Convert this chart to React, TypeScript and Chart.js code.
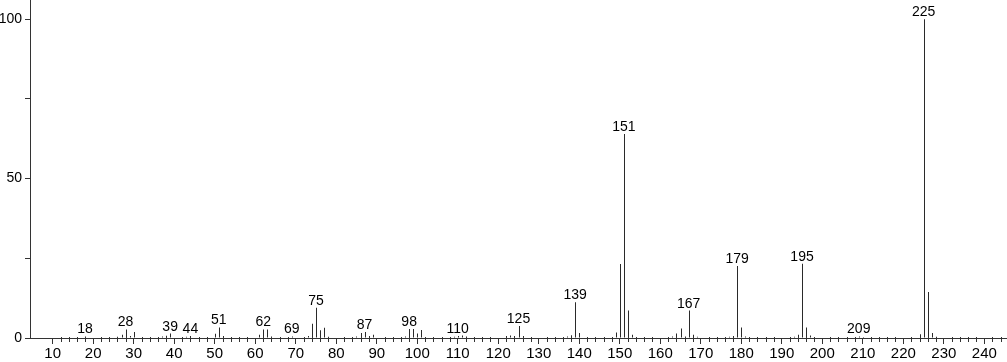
import React, { useEffect, useRef } from 'react';
import { Chart, registerables } from 'chart.js';

Chart.register(...registerables);

// m/z values of the peaks
const masses = [
  18, 26, 27, 28, 29, 30, 37, 38, 39, 43, 44, 50, 51, 52,
  61, 62, 63, 64, 69, 73, 74, 75, 76, 77, 78,
  85, 86, 87, 88, 89, 97, 98, 99, 100, 101,
  109, 110, 111, 112, 122, 123, 124, 125, 126,
  137, 138, 139, 140, 149, 150, 151, 152, 153,
  163, 164, 165, 166, 167, 168, 169,
  177, 178, 179, 180, 181, 193, 194, 195, 196, 197,
  208, 209, 210, 224, 225, 226, 227, 228,
];

// relative intensities (%)
const intensities = [
  0.5, 0.4, 1.0, 2.7, 0.6, 1.9, 0.5, 0.7, 1.4, 0.4, 0.6, 1.3, 3.3, 0.6,
  1.0, 2.7, 2.7, 0.5, 0.5, 0.6, 4.5, 9.5, 2.4, 3.2, 0.4,
  0.5, 1.6, 1.9, 0.6, 1.0, 0.5, 2.8, 2.8, 1.4, 2.5,
  0.4, 0.6, 0.8, 0.5, 0.6, 0.8, 0.6, 3.8, 0.6,
  0.5, 0.9, 11.2, 1.6, 1.7, 23.2, 64.0, 8.6, 1.0,
  0.5, 1.4, 3.0, 0.5, 8.6, 1.0, 0.4,
  0.4, 0.6, 22.6, 3.3, 0.5, 0.4, 1.0, 23.3, 3.3, 0.8,
  0.3, 0.5, 0.3, 1.2, 100, 14.4, 1.6, 0.4,
];

// peaks annotated with their m/z
const labeledMasses = [18, 28, 39, 44, 51, 62, 69, 75, 87, 98, 110, 125, 139, 151, 167, 179, 195, 209, 225];

// axis ticks
const xMajorTicks = [10, 20, 30, 40, 50, 60, 70, 80, 90, 100, 110, 120, 130, 140, 150, 160, 170, 180, 190, 200, 210, 220, 230, 240];
const xMinorTicks = [
  12, 14, 16, 18, 22, 24, 26, 28, 32, 34, 36, 38, 42, 44, 46, 48, 52, 54, 56, 58,
  62, 64, 66, 68, 72, 74, 76, 78, 82, 84, 86, 88, 92, 94, 96, 98,
  102, 104, 106, 108, 112, 114, 116, 118, 122, 124, 126, 128, 132, 134, 136, 138,
  142, 144, 146, 148, 152, 154, 156, 158, 162, 164, 166, 168, 172, 174, 176, 178,
  182, 184, 186, 188, 192, 194, 196, 198, 202, 204, 206, 208, 212, 214, 216, 218,
  222, 224, 226, 228, 232, 234, 236, 238, 242, 244,
];
const yLabeledTicks = [0, 50, 100];

const FONT = '"Liberation Sans", Arial, sans-serif';
const AXIS_COLOR = '#333';

const crispBarsPlugin = {
  id: 'crispBars',
  beforeDatasetsDraw(chart: any) {
    const meta = chart.getDatasetMeta(0);
    meta.data.forEach((el: any) => {
      el.x = Math.round(el.x) + 0.5;
    });
  },
};

const peakLabelPlugin = {
  id: 'peakLabels',
  afterDatasetsDraw(chart: any) {
    const { ctx, scales } = chart;
    const x = scales.x;
    const y = scales.y;
    ctx.save();
    ctx.font = `14px ${FONT}`;
    ctx.fillStyle = '#000';
    ctx.textAlign = 'center';
    ctx.textBaseline = 'alphabetic';
    labeledMasses.forEach((m) => {
      const i = masses.indexOf(m);
      const v = i >= 0 ? intensities[i] : 0;
      ctx.fillText(String(m), x.getPixelForValue(m), y.getPixelForValue(v) - 3);
    });
    ctx.restore();
  },
};

const minorTickPlugin = {
  id: 'minorTicks',
  afterDraw(chart: any) {
    const { ctx, scales } = chart;
    const x = scales.x;
    const base = Math.round(chart.chartArea.bottom);
    ctx.save();
    ctx.strokeStyle = AXIS_COLOR;
    ctx.lineWidth = 1;
    ctx.beginPath();
    xMinorTicks.forEach((v) => {
      const px = Math.round(x.getPixelForValue(v)) + 0.5;
      ctx.moveTo(px, base - 1);
      ctx.lineTo(px, base + 4);
    });
    ctx.stroke();
    ctx.restore();
  },
};

export default function App() {
  const canvasRef = useRef<HTMLCanvasElement | null>(null);

  useEffect(() => {
    if (!canvasRef.current) return;
    const chart = new Chart(canvasRef.current, {
      type: 'bar',
      data: {
        datasets: [
          {
            data: masses.map((m, i) => ({ x: m, y: intensities[i] })),
            backgroundColor: '#2a2a2a',
            borderWidth: 0,
            barThickness: 1,
            inflateAmount: 0,
          },
        ],
      },
      plugins: [crispBarsPlugin, peakLabelPlugin, minorTickPlugin],
      options: {
        animation: false,
        responsive: true,
        maintainAspectRatio: false,
        layout: { padding: 0, autoPadding: false },
        plugins: {
          legend: { display: false },
          tooltip: { enabled: false },
        },
        scales: {
          x: {
            type: 'linear',
            min: 4.4,
            max: 245.6,
            offset: false,
            grid: {
              offset: false,
              drawOnChartArea: false,
              tickLength: 6,
              color: AXIS_COLOR,
            },
            border: { display: true, color: AXIS_COLOR },
            afterBuildTicks: (scale: any) => {
              scale.ticks = xMajorTicks.map((v) => ({ value: v }));
            },
            ticks: {
              autoSkip: false,
              maxRotation: 0,
              padding: 1,
              color: '#000',
              font: { family: FONT, size: 15 },
              callback: (v: any) => String(v),
            },
            afterFit: (scale: any) => {
              scale.height = 24;
              scale.paddingLeft = 0;
              scale.paddingRight = 0;
              scale.paddingTop = 0;
              scale.paddingBottom = 0;
            },
          },
          y: {
            type: 'linear',
            min: 0,
            max: 106,
            grid: {
              drawOnChartArea: false,
              tickLength: 5,
              color: AXIS_COLOR,
            },
            border: { display: true, color: AXIS_COLOR },
            ticks: {
              stepSize: 25,
              includeBounds: false,
              padding: 3,
              color: '#000',
              font: { family: FONT, size: 14 },
              callback: (v: any) => (yLabeledTicks.includes(Number(v)) ? String(v) : ''),
            },
            afterFit: (scale: any) => {
              scale.width = 30;
              scale.paddingTop = 0;
              scale.paddingBottom = 0;
              scale.paddingLeft = 0;
              scale.paddingRight = 0;
            },
          },
        },
      },
    } as any);
    return () => chart.destroy();
  }, []);

  return (
    <div style={{ position: 'fixed', left: 0, top: 0, width: 1007, height: 362, background: '#fff' }}>
      <canvas ref={canvasRef} />
    </div>
  );
}
